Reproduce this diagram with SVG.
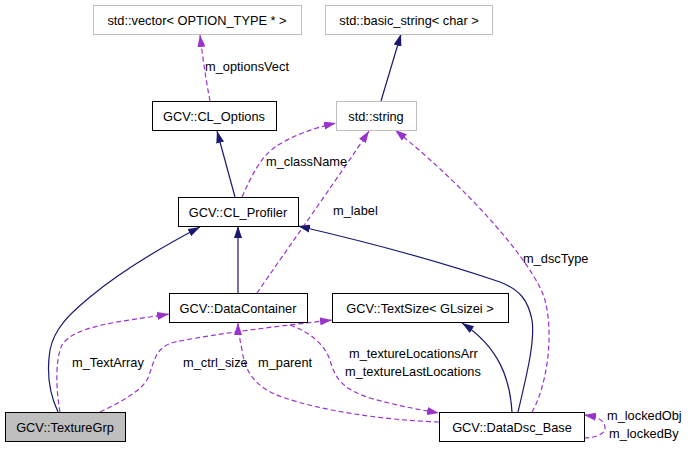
<svg xmlns="http://www.w3.org/2000/svg" width="689" height="451" viewBox="0 0 689 451">
<style>
text { font-family: "Liberation Sans", Arial, sans-serif; font-size: 12.8px; fill: #000; }
.node text { text-anchor: middle; }
.box { fill: #fff; stroke: #000; stroke-width: 1; }
.ext { fill: #fff; stroke: #bfbfbf; stroke-width: 1; }
.cur { fill: #bfbfbf; stroke: #000; stroke-width: 1; }
.inh { fill: none; stroke: #191970; stroke-width: 1.2; marker-end: url(#an); }
.use { fill: none; stroke: #9a32cd; stroke-width: 1.2; stroke-dasharray: 5,3; marker-end: url(#ap); }
</style>
<defs>
<marker id="an" markerUnits="userSpaceOnUse" markerWidth="12" markerHeight="8" refX="12" refY="4" orient="auto">
<path d="M0,0 L12,4 L0,8 z" fill="#191970"/>
</marker>
<marker id="ap" markerUnits="userSpaceOnUse" markerWidth="12" markerHeight="8" refX="12" refY="4" orient="auto">
<path d="M0,0 L12,4 L0,8 z" fill="#9a32cd"/>
</marker>
</defs>
<rect width="689" height="451" fill="#fff"/>
<g id="edges">
<path class="use" d="M210,101 C206,80 203,60 200,35"/>
<path class="inh" d="M381,101 L401,34"/>
<path class="inh" d="M235,197 L217,131"/>
<path class="use" d="M242,197 C252,175 260,158 275,147 C290,137 310,129 336,123"/>
<path class="use" d="M257,293 C290,245 340,175 369,131"/>
<path class="use" d="M532,412 C545,390 555,340 545,300 C535,265 470,190 395,130"/>
<path class="inh" d="M238,293 L238,226"/>
<path class="inh" d="M58,412 C50,395 46,375 50,350 C55,325 75,310 90,297 C120,272 160,248 200,227"/>
<path class="inh" d="M518,412 C528,370 535,340 532,320 C528,300 520,290 500,282 C450,265 380,245 298,226"/>
<path class="inh" d="M512,412 C510,380 500,348 462,323"/>
<path class="use" d="M60,412 C56,390 55,360 62,345 C75,325 120,322 169,314"/>
<path class="use" d="M100,412 C125,400 142,390 148,378 C155,360 155,347 175,342 C220,333 280,326 332,320"/>
<path class="use" d="M439,422 C380,420 320,410 285,398 C255,388 245,372 242,350 C240,340 238,330 238,323"/>
<path class="use" d="M290,325 C310,332 325,345 330,360 C335,380 345,390 370,398 C395,405 415,409 439,413"/>
<path class="use" d="M584,438 C595,438 606,434 605,427 C604,420 598,417 584,415"/>
<text x="205" y="71">m_optionsVect</text>
<text x="266" y="166">m_className</text>
<text x="333" y="215">m_label</text>
<text x="523" y="263">m_dscType</text>
<text x="72" y="367">m_TextArray</text>
<text x="183" y="367">m_ctrl_size</text>
<text x="258" y="367">m_parent</text>
<text x="349" y="358">m_textureLocationsArr</text>
<text x="345" y="376">m_textureLastLocations</text>
<text x="607" y="420">m_lockedObj</text>
<text x="609" y="438">m_lockedBy</text>
</g>
<g id="vector" class="node"><rect class="ext" x="93.5" y="5.5" width="208" height="29"/><text x="197" y="24.5">std::vector&lt; OPTION_TYPE * &gt;</text></g>
<g id="basic_string" class="node"><rect class="ext" x="325.5" y="5.5" width="167" height="29"/><text x="409" y="24.5">std::basic_string&lt; char &gt;</text></g>
<g id="CL_Options" class="node"><rect class="box" x="152.5" y="101.5" width="124" height="29"/><text x="214" y="120.5">GCV::CL_Options</text></g>
<g id="string" class="node"><rect class="ext" x="336.5" y="101.5" width="80" height="29"/><text x="376" y="120.5">std::string</text></g>
<g id="CL_Profiler" class="node"><rect class="box" x="178.5" y="197.5" width="120" height="29"/><text x="238" y="216.5">GCV::CL_Profiler</text></g>
<g id="DataContainer" class="node"><rect class="box" x="169.5" y="293.5" width="138" height="29"/><text x="238" y="312.5">GCV::DataContainer</text></g>
<g id="TextSize" class="node"><rect class="box" x="332.5" y="293.5" width="176" height="29"/><text x="420" y="312.5">GCV::TextSize&lt; GLsizei &gt;</text></g>
<g id="TextureGrp" class="node"><rect class="cur" x="5.5" y="412.5" width="120" height="29"/><text x="65" y="431.5">GCV::TextureGrp</text></g>
<g id="DataDsc_Base" class="node"><rect class="box" x="439.5" y="412.5" width="145" height="29"/><text x="512" y="431.5">GCV::DataDsc_Base</text></g>
</svg>
